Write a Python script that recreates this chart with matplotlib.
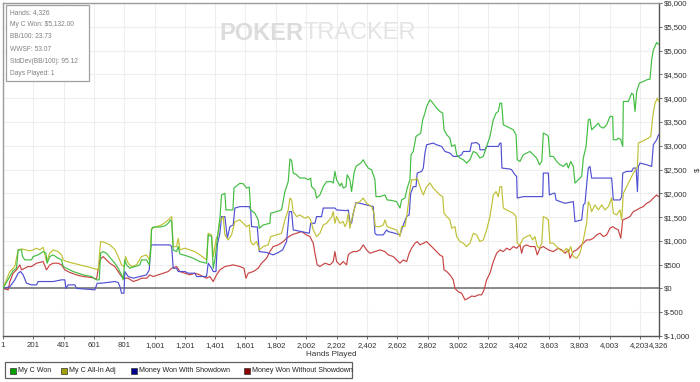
import matplotlib
matplotlib.use("Agg")
import matplotlib.pyplot as plt
from matplotlib import font_manager
from matplotlib.patches import Rectangle

_names = {f.name for f in font_manager.fontManager.ttflist}
NARROW = 'Liberation Sans Narrow' in _names
plt.rcParams['font.family'] = (['Liberation Sans Narrow'] if NARROW else []) + ['Liberation Sans', 'DejaVu Sans']
FS = 6.6 if NARROW else 5.6

# ---------------- data ----------------
green_hands = [1, 46, 68, 90, 101, 123, 130, 145, 189, 200, 233, 266, 284, 292, 310, 332, 365, 387, 398, 420,
               464, 530, 585, 618, 636, 645, 662, 684, 706, 739, 761, 783, 794, 805, 816, 838, 871, 904, 915, 948,
               966, 975, 981, 992, 1036, 1069, 1091, 1107, 1114, 1124, 1146, 1157, 1168, 1212, 1256, 1300, 1344,
               1355, 1377, 1388, 1399, 1414, 1432, 1443, 1465, 1472, 1518, 1525, 1564, 1586, 1608, 1626, 1635,
               1663, 1685, 1692, 1718, 1762, 1767, 1806, 1839, 1861, 1883, 1894, 1905, 1916, 1938, 1960, 1993,
               2015, 2031, 2037, 2059, 2070, 2092, 2114, 2136, 2169, 2180, 2191, 2202, 2224, 2235, 2246, 2264,
               2272, 2290, 2301, 2317, 2330, 2345, 2361, 2378, 2389, 2411, 2433, 2455, 2462, 2488, 2521, 2536,
               2565, 2598, 2620, 2631, 2653, 2668, 2686, 2693, 2708, 2726, 2741, 2757, 2770, 2785, 2796, 2818,
               2829, 2862, 2884, 2902, 2911, 2929, 2950, 2961, 2983, 2994, 3016, 3038, 3060, 3082, 3104, 3126,
               3148, 3170, 3192, 3214, 3236, 3254, 3269, 3280, 3291, 3302, 3324, 3346, 3368, 3386, 3394, 3412,
               3434, 3456, 3478, 3500, 3522, 3540, 3556, 3566, 3588, 3599, 3610, 3632, 3654, 3676, 3698, 3720,
               3731, 3747, 3764, 3775, 3797, 3819, 3830, 3848, 3863, 3874, 3885, 3907, 3929, 3940, 3962, 3984,
               4006, 4024, 4028, 4050, 4061, 4077, 4090, 4094, 4127, 4149, 4160, 4171, 4182, 4200, 4226, 4248,
               4270, 4281, 4292, 4314, 4326]
green_vals = [0, 250, 375, 425, 810, 810, 670, 600, 600, 670, 705, 775, 740, 530, 670, 705, 635, 600, 460, 425,
              355, 285, 250, 180, 180, 740, 775, 740, 650, 530, 425, 285, 180, 600, 495, 425, 460, 495, 600, 600,
              495, 740, 1230, 1290, 1290, 1315, 1370, 1440, 1405, 810, 775, 880, 725, 685, 635, 565, 530,
              1125, 1090, 425, 600, 1020, 1475, 1965, 2000, 1650, 1650, 2110, 2210, 2200, 2110, 2130, 1650,
              1580, 1440, 1265, 1335, 1370, 1580, 1615, 1650, 2035, 2245, 2720, 2690, 2425, 2390, 2320, 2320,
              2285, 2320, 2140, 2070, 1900, 1965, 2140, 2245, 2245, 2215, 2460, 2285, 2155, 2215, 2110, 2140,
              2390, 2285, 2035, 2425, 2565, 2600, 2635, 2705, 2635, 2530, 2495, 2285, 1930, 1930, 1965, 1860,
              1850, 1825, 1690, 1860, 1900, 2110, 2285, 2810, 2880, 3195, 3230, 3265, 3545, 3685, 3825, 3965,
              3930, 3790, 3720, 3685, 3335, 3230, 3160, 2985, 3020, 2810, 2740, 2705, 2635, 2705, 2880, 2845,
              2740, 2775, 2985, 3195, 3545, 3685, 3720, 3895, 3895, 3440, 3405, 3370, 3335, 3230, 2705, 2670,
              2810, 2845, 2880, 2810, 2740, 2600, 2670, 3265, 3230, 3195, 2775, 2775, 2670, 2600, 2565, 2635,
              2530, 2670, 2565, 2215, 2285, 2355, 2740, 2985, 3545, 3560, 3335, 3405, 3475, 3405, 3370, 3440,
              3615, 3615, 3125, 3125, 3160, 3125, 2985, 3930, 3930, 4105, 4070, 3720, 4140, 4315, 4350, 4385,
              4400, 4805, 5015, 5170, 5132]

yellow_hands = [1, 46, 79, 101, 125, 178, 200, 222, 244, 266, 288, 310, 332, 365, 387, 398, 420, 464, 508, 552,
                596, 629, 645, 673, 706, 739, 761, 783, 799, 810, 827, 849, 882, 915, 948, 966, 975, 981, 1014,
                1047, 1080, 1102, 1114, 1124, 1146, 1157, 1168, 1201, 1234, 1267, 1300, 1344, 1355, 1377, 1388,
                1406, 1421, 1432, 1454, 1465, 1487, 1509, 1531, 1564, 1586, 1608, 1626, 1635, 1652, 1674, 1692,
                1718, 1751, 1767, 1806, 1839, 1861, 1883, 1894, 1905, 1916, 1938, 1960, 1993, 2015, 2031, 2048,
                2070, 2092, 2114, 2136, 2169, 2180, 2191, 2202, 2224, 2246, 2257, 2268, 2279, 2290, 2301, 2312,
                2330, 2356, 2378, 2400, 2433, 2449, 2457, 2488, 2510, 2521, 2536, 2565, 2598, 2620, 2631, 2653,
                2668, 2686, 2697, 2719, 2734, 2752, 2774, 2796, 2818, 2840, 2862, 2884, 2902, 2911, 2929, 2950,
                2961, 2983, 2994, 3016, 3038, 3060, 3082, 3104, 3126, 3148, 3170, 3192, 3214, 3236, 3254, 3269,
                3280, 3291, 3302, 3324, 3346, 3368, 3386, 3394, 3412, 3434, 3456, 3478, 3496, 3511, 3526, 3540,
                3556, 3566, 3588, 3599, 3610, 3632, 3654, 3676, 3698, 3720, 3731, 3747, 3764, 3786, 3808, 3830,
                3852, 3863, 3874, 3885, 3907, 3929, 3951, 3973, 3995, 4017, 4028, 4050, 4072, 4083, 4094, 4116,
                4138, 4160, 4187, 4193, 4216, 4237, 4259, 4275, 4288, 4303, 4318, 4326]
yellow_vals = [0, 355, 460, 810, 830, 790, 810, 845, 810, 865, 565, 740, 810, 775, 705, 600, 565, 530, 495, 460,
               425, 390, 985, 965, 915, 820, 670, 495, 460, 670, 530, 460, 495, 670, 705, 600, 810, 1265, 1300,
               1335, 1405, 1475, 1510, 880, 880, 1055, 810, 845, 810, 775, 705, 600, 1160, 1125, 670,
               1020, 1160, 1405, 1510, 1125, 1020, 1125, 1405, 1440, 1370, 1300, 1335, 985, 915, 985, 810,
               880, 915, 1090, 1125, 1160, 1440, 1650, 1900, 1860, 1615, 1510, 1545, 1475, 1510, 1440, 1230,
               1090, 1160, 1335, 1370, 1500, 1615, 1370, 1510, 1370, 1405, 1300, 1370, 1580, 1265, 1440, 1580,
               1790, 1825, 1900, 1790, 1720, 1580, 1300, 1300, 1335, 1440, 1300, 1265, 1230, 1090, 1300, 1300,
               1580, 2070, 2285, 2285, 2320, 2140, 1965, 2140, 2215, 2110, 2035, 1965, 1930, 1580, 1510, 1440,
               1265, 1300, 1090, 985, 950, 880, 950, 1160, 1125, 985, 1020, 1230, 1510, 1965, 2035, 1930,
               2140, 2140, 1690, 1650, 1615, 1580, 1510, 950, 915, 1055, 1090, 1125, 1020, 1090, 880, 845,
               950, 1510, 1475, 1440, 950, 950, 880, 810, 775, 845, 740, 880, 670, 635, 740, 1020,
               1370, 1825, 1755, 1615, 1755, 1650, 1755, 1650, 1720, 1900, 1580, 1545, 1650, 1440, 2000, 2140,
               2285, 2425, 2565, 3055, 3090, 3125, 3160, 3195, 3615, 3895, 4000, 3930]

blue_hands = [1, 46, 79, 101, 117, 134, 156, 189, 222, 233, 332, 387, 409, 416, 431, 475, 486, 574, 607, 623,
              651, 739, 761, 772, 783, 799, 805, 827, 860, 904, 948, 966, 975, 981, 1102, 1114, 1124, 1146,
              1157, 1201, 1223, 1267, 1278, 1344, 1355, 1377, 1388, 1406, 1415, 1432, 1443, 1465, 1481, 1498,
              1520, 1531, 1564, 1626, 1635, 1641, 1679, 1692, 1740, 1784, 1817, 1846, 1872, 1890, 1905, 1916,
              1971, 2022, 2031, 2059, 2070, 2103, 2114, 2191, 2202, 2268, 2279, 2290, 2301, 2312, 2330, 2356,
              2400, 2444, 2455, 2466, 2510, 2532, 2543, 2587, 2620, 2638, 2664, 2681, 2691, 2708, 2726, 2734,
              2763, 2774, 2785, 2796, 2840, 2862, 2895, 2917, 2950, 2972, 3005, 3027, 3038, 3082, 3093, 3126,
              3144, 3148, 3181, 3192, 3269, 3280, 3287, 3293, 3346, 3357, 3379, 3390, 3394, 3434, 3562, 3566,
              3599, 3606, 3632, 3643, 3650, 3676, 3709, 3764, 3775, 3819, 3830, 3841, 3856, 3863, 3874, 3885,
              4017, 4028, 4072, 4083, 4090, 4116, 4149, 4160, 4178, 4187, 4193, 4204, 4248, 4281, 4292, 4314,
              4326]
blue_vals = [0, 35, 180, 320, 355, 285, 110, 75, 75, 145, 145, 180, 180, 0, 75, 75, 0, -20, -30, 110,
             110, 145, 125, 40, -100, -100, 355, 250, 215, 250, 285, 390, 880, 915, 915, 880, 425, 425,
             355, 355, 320, 320, 250, 250, 530, 425, 355, 355, 915, 1160, 1510, 1510, 1055, 1300,
             1335, 1690, 1720, 1720, 1650, 1300, 1290, 775, 755, 705, 755, 810, 985, 1615, 1615, 1230,
             1195, 1160, 1370, 1370, 1510, 1510, 1690, 1690, 1650, 1635, 1650, 1405, 1370, 1580, 1805, 1790,
             1755, 1720, 1160, 1125, 1125, 1230, 1195, 1160, 1125, 1300, 1510, 1545, 2000, 2140, 2140, 2425,
             2460, 2530, 2845, 3020, 3055, 3020, 2985, 2880, 2845, 2775, 2775, 2810, 2880, 2880, 3055, 3065,
             3020, 2915, 2915, 2985, 2985, 3055, 3055, 2530, 2510, 2495, 2390, 2355, 1900, 1930, 1930, 2425,
             2425, 1965, 2000, 2000, 1860, 1825, 1790, 1825, 1405, 1440, 1755, 1790, 2320, 2530, 2565, 2320,
             2320, 1860, 1860, 1930, 2425, 2460, 2460, 2530, 2530, 2035, 2565, 2635, 2600, 2565, 3020, 3125,
             3230]

red_hands = [1, 35, 46, 68, 90, 112, 123, 145, 167, 189, 222, 266, 288, 310, 332, 365, 387, 409, 442, 486,
             530, 585, 618, 640, 662, 684, 706, 739, 761, 783, 805, 827, 860, 893, 915, 948, 970, 992, 1025,
             1058, 1091, 1114, 1146, 1168, 1201, 1234, 1267, 1300, 1344, 1366, 1388, 1410, 1432, 1465, 1520,
             1564, 1591, 1604, 1619, 1652, 1685, 1707, 1740, 1762, 1784, 1817, 1850, 1872, 1905, 1938, 1971,
             2004, 2026, 2048, 2059, 2074, 2092, 2125, 2158, 2180, 2191, 2202, 2224, 2246, 2268, 2279, 2290,
             2312, 2334, 2356, 2378, 2400, 2422, 2455, 2488, 2521, 2543, 2576, 2598, 2620, 2642, 2664, 2681,
             2697, 2719, 2734, 2752, 2774, 2796, 2818, 2840, 2862, 2884, 2902, 2911, 2929, 2950, 2972, 2983,
             3005, 3027, 3049, 3071, 3093, 3115, 3137, 3159, 3175, 3192, 3214, 3236, 3258, 3280, 3302, 3324,
             3346, 3368, 3390, 3412, 3423, 3434, 3456, 3478, 3511, 3526, 3544, 3566, 3599, 3632, 3665, 3687,
             3709, 3731, 3742, 3764, 3786, 3808, 3830, 3852, 3874, 3896, 3918, 3940, 3962, 3984, 4006, 4024,
             4039, 4061, 4077, 4090, 4116, 4138, 4160, 4182, 4204, 4226, 4248, 4270, 4292, 4314, 4326]
red_vals = [0, -30, 145, 320, 390, 495, 390, 425, 460, 460, 530, 565, 390, 495, 530, 530, 495, 390, 335, 285,
            250, 230, 195, 600, 670, 600, 530, 460, 355, 250, 215, 215, 145, 180, 215, 215, 285, 250, 285,
            320, 355, 425, 460, 355, 320, 285, 320, 285, 215, 250, 145, 285, 390, 460, 495,
            460, 425, 215, 320, 355, 425, 530, 635, 775, 880, 915, 985, 1055, 1125, 1160, 1195,
            1125, 1090, 950, 740, 495, 460, 530, 495, 565, 775, 565, 495, 565, 495, 705, 740,
            775, 775, 810, 915, 810, 740, 775, 810, 775, 705, 670, 600, 530, 600, 565, 740,
            845, 950, 985, 915, 950, 985, 915, 845, 775, 700, 670, 390, 355, 285, 180, 0,
            -70, -100, -240, -205, -160, -170, -135, -135, -30, 180, 320, 565, 740, 810, 775, 845,
            810, 880, 845, 915, 740, 880, 915, 880, 880, 705, 845, 880, 810, 775, 845, 810,
            740, 810, 635, 775, 810, 880, 950, 1020, 1020, 1055, 1125, 1160, 1090, 1125, 1265, 1300,
            1265, 1230, 1055, 1440, 1475, 1510, 1615, 1650, 1690, 1720, 1790, 1825, 1900, 1965, 1930]

series_names = ["My C Won", "My C All-In Adj", "Money Won With Showdown", "Money Won Without Showdown"]
line_colors = ["#42bd42", "#c0c035", "#5050d4", "#c84444"]
legend_colors = ["#00a000", "#a0a000", "#00008b", "#8b0000"]

x_ticks = [1, 201, 401, 601, 801, 1001, 1201, 1401, 1601, 1802, 2002, 2202, 2402, 2602, 2802, 3002,
           3202, 3402, 3603, 3803, 4003, 4203, 4326]
y_ticks = list(range(-1000, 6001, 500))

stats_lines = ["Hands: 4,326", "My C Won: $5,132.00", "BB/100: 23.73", "WWSF: 53.07",
               "StdDev(BB/100): 95.12", "Days Played: 1"]

# ---------------- figure ----------------
W, H = 700, 382
fig = plt.figure(figsize=(W / 100, H / 100), dpi=100)
ax = fig.add_axes([3 / W, 1 - 336 / H, (658.5 - 3) / W, (336 - 3) / H])

all_series = [(green_hands, green_vals), (yellow_hands, yellow_vals),
              (blue_hands, blue_vals), (red_hands, red_vals)]
for (hx, hy), c, z in zip(all_series, line_colors, [4, 3, 2, 1]):
    ax.plot(hx, hy, color=c, lw=0.85, zorder=z + 2)

ax.set_xlim(1, 4326)
ax.set_ylim(-1000, 6000)
ax.axhline(0, color="#808080", lw=1.3, zorder=2)

ax.set_xticks(x_ticks)
ax.set_xticklabels([f"{t:,}" for t in x_ticks], fontsize=FS, color="#333333")
ax.set_yticks(y_ticks)
ax.set_yticklabels([f"${t:,}" for t in y_ticks], fontsize=FS, color="#333333")
ax.yaxis.tick_right()
ax.yaxis.set_label_position("right")
ax.set_ylabel("$", fontsize=FS, color="#333333", labelpad=3)
ax.set_xlabel("Hands Played", fontsize=FS + 0.3, color="#333333", labelpad=1.5)
ax.tick_params(axis='both', length=2.5, width=0.6, color="#555555", pad=1.5)
ax.grid(True, color="#eeeeee", lw=0.8, zorder=0)
ax.set_axisbelow(True)
for side in ["left", "top"]:
    ax.spines[side].set_color("#9a9a9a")
    ax.spines[side].set_linewidth(1.0)
for side in ["right", "bottom"]:
    ax.spines[side].set_color("#555555")
    ax.spines[side].set_linewidth(1.0)

# watermark
fig.text(303 / W, 1 - 33 / H, "POKER", fontsize=17, fontweight='bold', color="#dcdcdc",
         ha='right', va='center', zorder=0, family=['Liberation Sans', 'DejaVu Sans'])
fig.text(304 / W, 1 - 33 / H, "TRACKER", fontsize=17, color="#e4e4e4",
         ha='left', va='center', zorder=0, family=['Liberation Sans', 'DejaVu Sans'])

# stats box
fig.patches.append(Rectangle((6 / W, 1 - 81 / H), 83 / W, 76 / H, transform=fig.transFigure,
                             facecolor="white", edgecolor="#a0a0a0", lw=0.9, zorder=5))
for i, s in enumerate(stats_lines):
    fig.text(10 / W, 1 - (12.5 + i * 12.2) / H, s, fontsize=FS - 0.8, color="#808080",
             ha='left', va='center', zorder=6)

# legend
fig.patches.append(Rectangle((5 / W, 1 - 378 / H), 347 / W, 16 / H, transform=fig.transFigure,
                             facecolor="white", edgecolor="#606060", lw=0.9, zorder=5))
leg_x = [10, 61, 131, 244]
for lx, name, c in zip(leg_x, series_names, legend_colors):
    fig.patches.append(Rectangle((lx / W, 1 - 373.5 / H), 6 / W, 6 / H, transform=fig.transFigure,
                                 facecolor=c, edgecolor="#333333", lw=0.5, zorder=6))
    fig.text((lx + 8) / W, 1 - 370.5 / H, name, fontsize=FS - 0.5, color="#222222",
             ha='left', va='center', zorder=6)

fig.savefig("out.png", dpi=100)
